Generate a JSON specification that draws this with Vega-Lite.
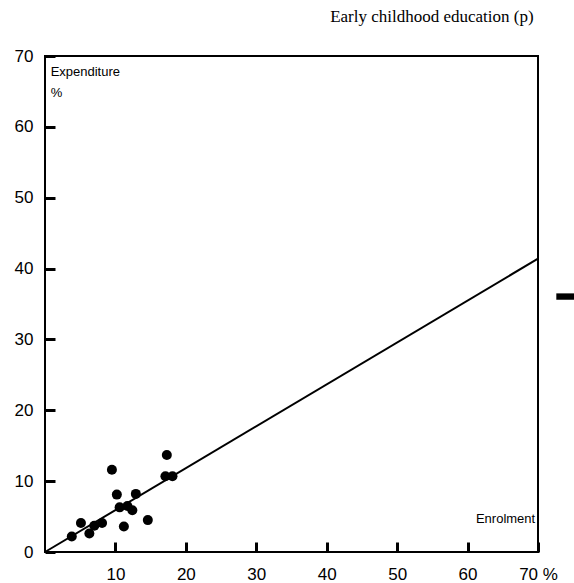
{
  "$schema": "https://vega.github.io/schema/vega-lite/v6.json",
  "width": 493,
  "height": 496,
  "autosize": {"type": "none"},
  "padding": {"left": 45, "top": 56, "right": 36, "bottom": 31},
  "background": "white",
  "config": {
    "view": {"stroke": "black", "strokeWidth": 2},
    "axis": {
      "domain": false, "ticks": true, "tickColor": "#000000", "tickOpacity": 1, "tickWidth": 3, "tickSize": 10, "offset": -10, "zindex": 1,
      "grid": false, "labelFont": "Liberation Sans", "labelFontSize": 17, "labelColor": "black", "title": null
    }
  },
  "title": {
    "text": "Early childhood education (p)",
    "font": "Liberation Serif", "fontSize": 17, "fontWeight": "normal", "color": "black",
    "anchor": "end", "offset": 21, "dx": -41
  },
  "datasets": {
    "points": [
      {"enrolment": 3.8, "expenditure": 2.2},
      {"enrolment": 5.1, "expenditure": 4.1},
      {"enrolment": 6.3, "expenditure": 2.6},
      {"enrolment": 7.0, "expenditure": 3.7},
      {"enrolment": 8.1, "expenditure": 4.1},
      {"enrolment": 9.5, "expenditure": 11.6},
      {"enrolment": 10.2, "expenditure": 8.1},
      {"enrolment": 10.6, "expenditure": 6.3},
      {"enrolment": 11.2, "expenditure": 3.6},
      {"enrolment": 11.7, "expenditure": 6.5},
      {"enrolment": 12.4, "expenditure": 5.9},
      {"enrolment": 12.9, "expenditure": 8.2},
      {"enrolment": 14.6, "expenditure": 4.5},
      {"enrolment": 17.3, "expenditure": 13.7},
      {"enrolment": 17.1, "expenditure": 10.7},
      {"enrolment": 18.1, "expenditure": 10.7}
    ],
    "fit": [
      {"enrolment": 0, "expenditure": 0},
      {"enrolment": 70, "expenditure": 41.4}
    ],
    "leftLabels": [
      {"enrolment": 0.8, "expenditure": 67.8, "text": "Expenditure"},
      {"enrolment": 0.8, "expenditure": 64.8, "text": "%"}
    ],
    "rightLabels": [
      {"enrolment": 69.6, "expenditure": 4.6, "text": "Enrolment"}
    ],
    "marker": [
      {"x1": 72.6, "x2": 75.2, "y1": 35.6, "y2": 36.5}
    ]
  },
  "layer": [
    {
      "data": {"name": "fit"},
      "mark": {"type": "line", "color": "black", "strokeWidth": 2},
      "encoding": {
        "x": {"field": "enrolment", "type": "quantitative", "scale": {"domain": [0, 70], "nice": false},
          "axis": {"values": [10, 20, 30, 40, 50, 60, 70], "labelPadding": 14,
            "labelExpr": "datum.value == 70 ? '70 %' : datum.label", "labelAlign": "center"}},
        "y": {"field": "expenditure", "type": "quantitative", "scale": {"domain": [0, 70], "nice": false},
          "axis": {"values": [0, 10, 20, 30, 40, 50, 60, 70], "labelPadding": 12, "labelBaseline": "middle"}}
      }
    },
    {
      "data": {"name": "points"},
      "mark": {"type": "circle", "color": "black", "opacity": 1, "size": 100},
      "encoding": {
        "x": {"field": "enrolment", "type": "quantitative"},
        "y": {"field": "expenditure", "type": "quantitative"}
      }
    },
    {
      "data": {"name": "leftLabels"},
      "mark": {"type": "text", "font": "Liberation Sans", "fontSize": 13, "color": "black", "baseline": "middle", "align": "left"},
      "encoding": {
        "x": {"field": "enrolment", "type": "quantitative"},
        "y": {"field": "expenditure", "type": "quantitative"},
        "text": {"field": "text"}
      }
    },
    {
      "data": {"name": "rightLabels"},
      "mark": {"type": "text", "font": "Liberation Sans", "fontSize": 13, "color": "black", "baseline": "middle", "align": "right"},
      "encoding": {
        "x": {"field": "enrolment", "type": "quantitative"},
        "y": {"field": "expenditure", "type": "quantitative"},
        "text": {"field": "text"}
      }
    },
    {
      "data": {"name": "marker"},
      "mark": {"type": "rect", "color": "black", "clip": false},
      "encoding": {
        "x": {"field": "x1", "type": "quantitative"},
        "x2": {"field": "x2"},
        "y": {"field": "y1", "type": "quantitative"},
        "y2": {"field": "y2"}
      }
    }
  ]
}
